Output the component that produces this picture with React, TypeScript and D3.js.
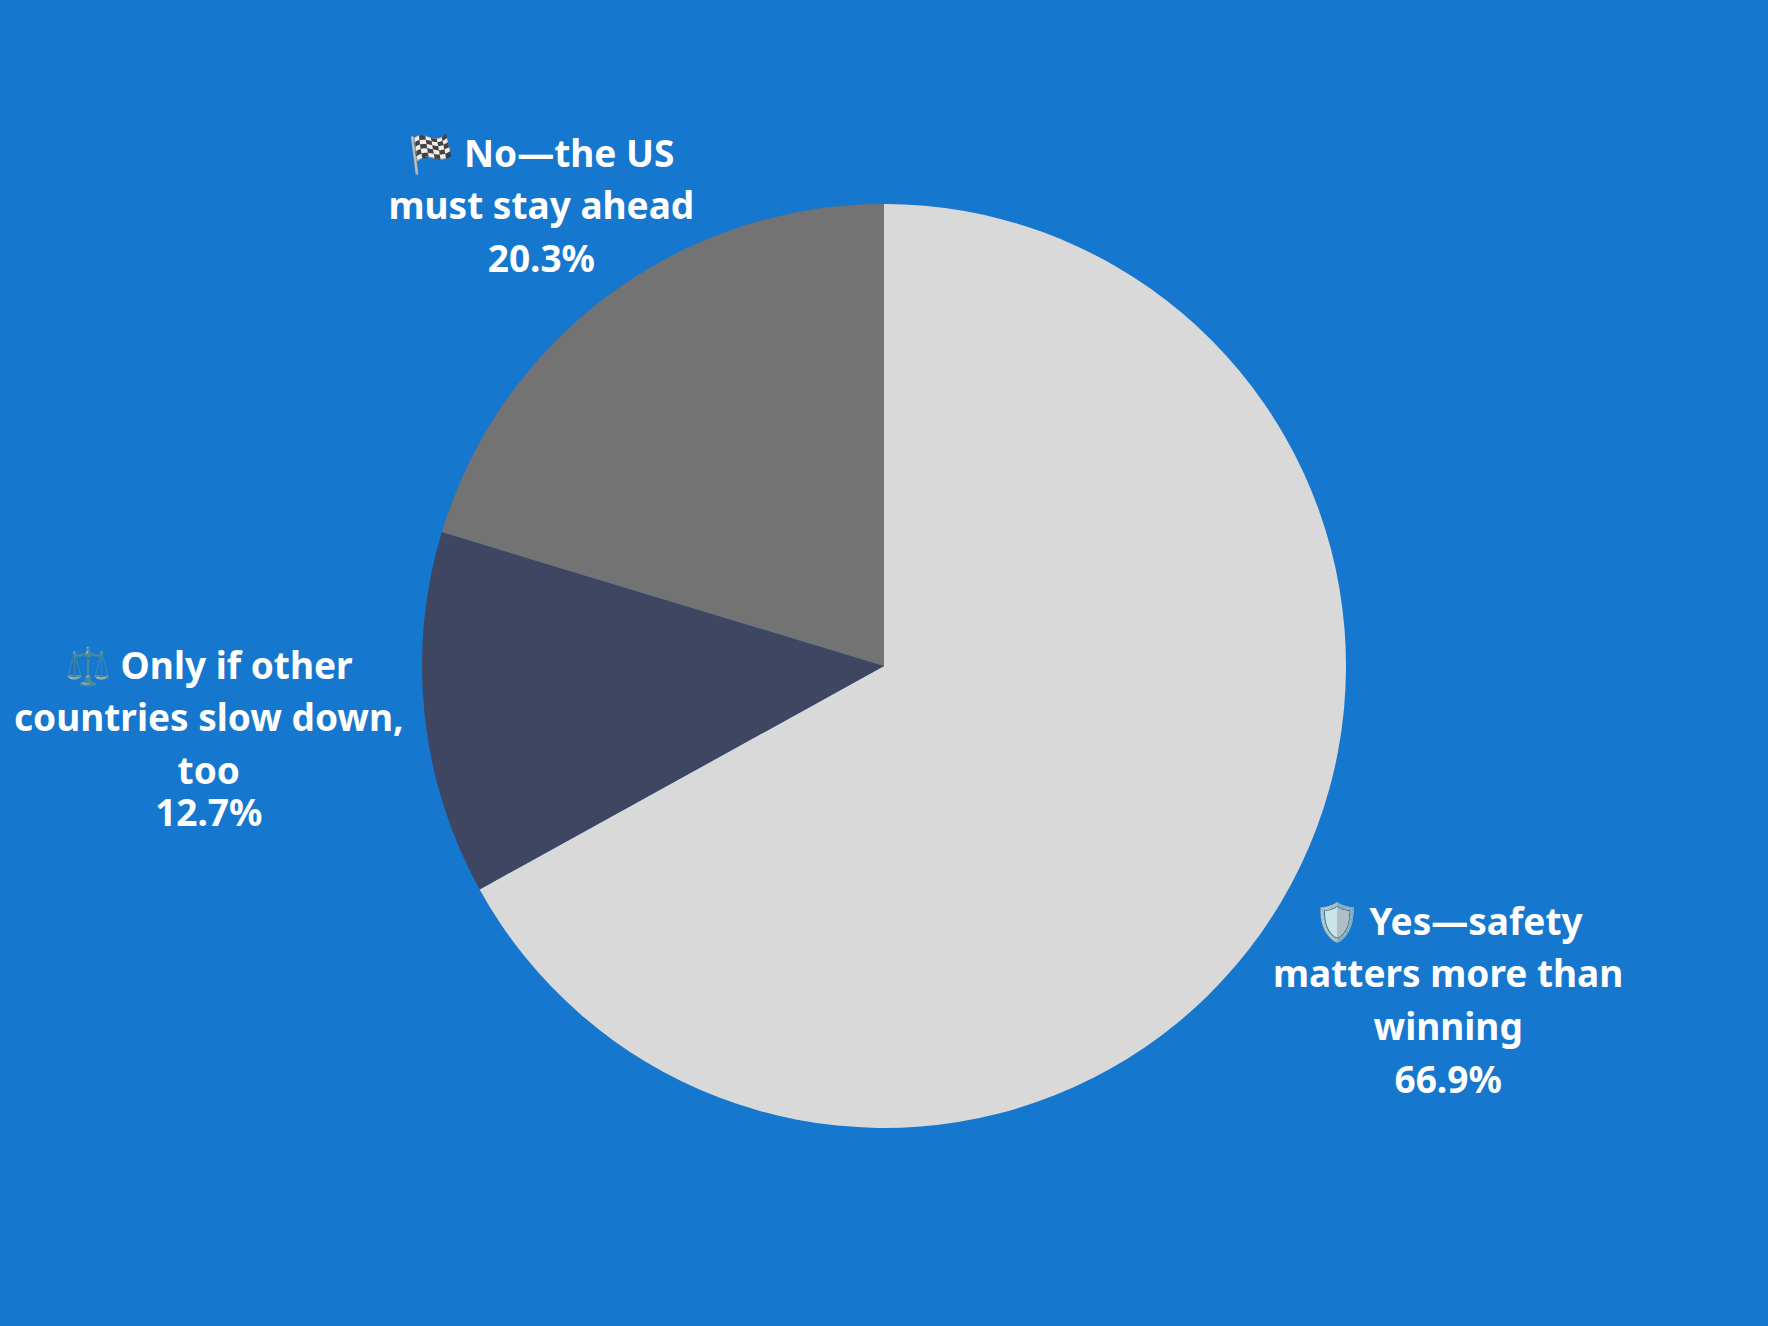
import { useEffect, useRef } from 'react';
import * as d3 from 'd3';

const labels = [
  '🛡️ Yes—safety matters more than winning',
  '⚖️ Only if other countries slow down, too',
  '🏁 No—the US must stay ahead',
];
const labelLines = [
  ['🛡️ Yes—safety', 'matters more than', 'winning'],
  ['⚖️ Only if other', 'countries slow down,', 'too'],
  ['🏁 No—the US', 'must stay ahead'],
];
const values = [66.9, 12.7, 20.3];
const colors = ['#d9d9d9', '#3e4661', '#737373'];
// distance of each label block from the pie centre (px)
const labelDist = [655, 679, 575];
// gap between the last name line and the percentage line
const pctGap = [52.7, 42, 52.7];

interface Slice {
  label: string;
  lines: string[];
  value: number;
  color: string;
  dist: number;
  gap: number;
}

export default function App() {
  const svgRef = useRef<SVGSVGElement>(null);
  const width = 1768;
  const height = 1326;

  useEffect(() => {
    if (!svgRef.current) return;
    const svg = d3.select(svgRef.current);
    svg.selectAll('*').remove();

    const data: Slice[] = labels.map((label, i) => ({
      label,
      lines: labelLines[i],
      value: values[i],
      color: colors[i],
      dist: labelDist[i],
      gap: pctGap[i],
    }));

    const cx = 884;
    const cy = 666;
    const radius = 462;
    const lineHeight = 52.7;

    svg.append('rect')
      .attr('width', width)
      .attr('height', height)
      .attr('fill', '#1677ce');

    const g = svg.append('g').attr('transform', `translate(${cx},${cy})`);

    const pie = d3.pie<Slice>()
      .sort(null)
      .value(d => d.value);

    const arc = d3.arc<d3.PieArcDatum<Slice>>()
      .innerRadius(0)
      .outerRadius(radius);

    const arcs = pie(data);

    g.selectAll('path.slice')
      .data(arcs)
      .enter().append('path')
      .attr('class', 'slice')
      .attr('d', arc)
      .attr('fill', d => d.data.color);

    const labelGroups = g.selectAll('g.label')
      .data(arcs)
      .enter().append('g')
      .attr('class', 'label')
      .attr('transform', d => {
        const a = (d.startAngle + d.endAngle) / 2;
        const x = Math.sin(a) * d.data.dist;
        const y = -Math.cos(a) * d.data.dist;
        return `translate(${x},${y})`;
      });

    labelGroups.each(function (d) {
      const names = d.data.lines;
      const ys = names.map((_, i) => i * lineHeight);
      ys.push(ys[ys.length - 1] + d.data.gap);
      const total = ys[ys.length - 1];
      const lines = [...names, `${d.data.value.toFixed(1)}%`];
      const t = d3.select(this).append('text')
        .attr('text-anchor', 'middle')
        .attr('fill', '#ffffff')
        .attr('font-family', '"Noto Sans", "Open Sans", sans-serif')
        .attr('font-weight', 700)
        .attr('font-size', '37px');
      lines.forEach((line, i) => {
        t.append('tspan')
          .attr('x', 0)
          .attr('y', ys[i] - total / 2 + 15)
          .text(line);
      });
    });
  }, []);

  return (
    <svg
      ref={svgRef}
      width={width}
      height={height}
      style={{ position: 'absolute', left: 0, top: 0 }}
    />
  );
}
